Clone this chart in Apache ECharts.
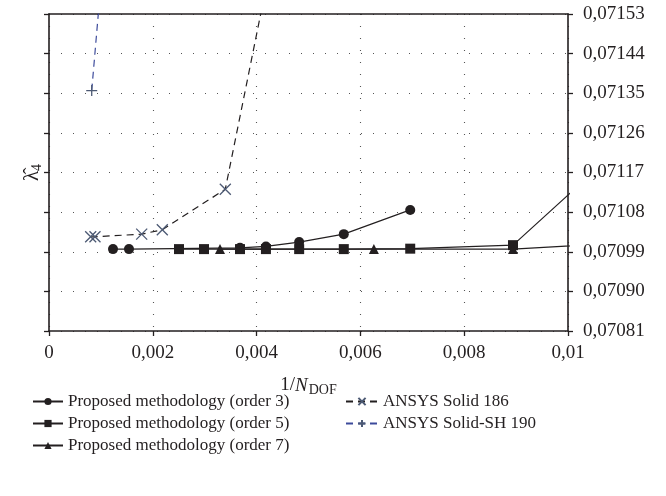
<!DOCTYPE html>
<html>
<head>
<meta charset="utf-8">
<script src="https://cdn.jsdelivr.net/npm/echarts@6/dist/echarts.min.js"></script>
<style>
  html, body { margin: 0; padding: 0; background: #fff; }
  #chart { width: 666px; height: 496px; }
</style>
</head>
<body>
<div id="chart"></div>
<script>
// Convergence of the fourth eigenvalue against 1/N_DOF
const xTicks = [0, 0.002, 0.004, 0.006, 0.008, 0.01];
const yTicks = [0.07081, 0.07090, 0.07099, 0.07108, 0.07117, 0.07126, 0.07135, 0.07144, 0.07153];

const order3X = [0.001233, 0.001541, 0.00368, 0.00418, 0.00482, 0.00568, 0.00696];
const order3Y = [0.070996, 0.070996, 0.070999, 0.071002, 0.071012, 0.071030, 0.071085];

const order5X = [0.002505, 0.002987, 0.00368, 0.00418, 0.00482, 0.00568, 0.00696, 0.00894, 0.0120];
const order5Y = [0.070996, 0.070996, 0.070996, 0.070996, 0.070996, 0.070996, 0.070997, 0.071005, 0.071333];

const order7X = [0.003295, 0.00626, 0.00894, 0.0120];
const order7Y = [0.070996, 0.070996, 0.070996, 0.071017];

const solid186X = [0.000803, 0.000886, 0.001786, 0.002183, 0.003397, 0.0048];
const solid186Y = [0.071024, 0.071024, 0.071030, 0.071040, 0.071132, 0.071951];

const sh190X = [0.000823, 0.0011];
const sh190Y = [0.071356, 0.071736];

const names = [
  'Proposed methodology (order 3)',
  'Proposed methodology (order 5)',
  'Proposed methodology (order 7)',
  'ANSYS Solid 186',
  'ANSYS Solid-SH 190'
];

const FONT = 'Liberation Serif';
const INK = '#231f20';
const MARK = '#4d5a74';
const BLUE = '#3c4a9b';

const pairs = (xs, ys) => xs.map((x, i) => [x, ys[i]]);
const fmtX = v => (v === 0 ? '0' : String(+v.toFixed(3)).replace('.', ','));
const fmtY = v => v.toFixed(5).replace('.', ',');

const gridDots = { show: true, lineStyle: { color: '#555', width: 1.1, type: [1, 11] } };

const chart = echarts.init(document.getElementById('chart'), null, { renderer: 'canvas' });

chart.setOption({
  animation: false,
  backgroundColor: '#fff',
  textStyle: { fontFamily: FONT, color: INK },
  grid: { left: 49, right: 98, top: 14, bottom: 165, containLabel: false },
  xAxis: [
    {
      type: 'value', position: 'bottom', min: 0, max: 0.01, interval: 0.002,
      axisLine: { show: true, onZero: false, lineStyle: { color: INK, width: 1.6 } },
      axisTick: { show: true, length: 5, lineStyle: { color: INK, width: 1.3 } },
      axisLabel: { formatter: fmtX, fontFamily: FONT, fontSize: 19, color: INK, margin: 13 },
      splitLine: gridDots,
      name: '{a|1/}{n|N}{s|DOF}',
      nameLocation: 'middle', nameGap: 43,
      nameTextStyle: {
        rich: {
          a: { fontFamily: FONT, fontSize: 19, color: INK },
          n: { fontFamily: FONT, fontSize: 19, fontStyle: 'italic', color: INK },
          s: { fontFamily: FONT, fontSize: 14, color: INK, padding: [9, 0, 0, 1] }
        }
      }
    },
    {
      type: 'value', position: 'top', min: 0, max: 0.01, interval: 0.002,
      axisLine: { show: true, onZero: false, lineStyle: { color: INK, width: 1.6 } },
      axisTick: { show: false }, axisLabel: { show: false }, splitLine: { show: false }
    }
  ],
  yAxis: [
    {
      type: 'value', position: 'left', min: yTicks[0], max: yTicks[yTicks.length - 1],
      axisLine: { show: true, onZero: false, lineStyle: { color: INK, width: 1.6 } },
      axisTick: { show: true, length: 5, customValues: yTicks, lineStyle: { color: INK, width: 1.3 } },
      axisLabel: { show: false, customValues: yTicks },
      splitLine: gridDots,
      name: '{l|λ̂}{s|4}',
      nameLocation: 'middle', nameGap: 5,
      nameTextStyle: {
        rich: {
          l: { fontFamily: FONT, fontSize: 21, color: INK },
          s: { fontFamily: FONT, fontSize: 14, color: INK, padding: [9, 0, 0, 0] }
        }
      }
    },
    {
      type: 'value', position: 'right', min: yTicks[0], max: yTicks[yTicks.length - 1],
      axisLine: { show: true, onZero: false, lineStyle: { color: INK, width: 1.6 } },
      axisTick: { show: true, length: 5, customValues: yTicks, lineStyle: { color: INK, width: 1.3 } },
      axisLabel: { customValues: yTicks, formatter: fmtY, fontFamily: FONT, fontSize: 19, color: INK, margin: 15 },
      splitLine: { show: false }
    }
  ],
  legend: [
    {
      data: names.slice(0, 3), orient: 'vertical', left: 27, top: 388,
      itemWidth: 30, itemHeight: 9, itemGap: 5,
      textStyle: { fontFamily: FONT, fontSize: 17, color: INK }
    },
    {
      data: names.slice(3), orient: 'vertical', left: 340, top: 388,
      itemWidth: 32, itemHeight: 9, itemGap: 5,
      textStyle: { fontFamily: FONT, fontSize: 17, color: INK }
    }
  ],
  series: [
    {
      name: names[0], type: 'line', data: pairs(order3X, order3Y),
      symbol: 'circle', symbolSize: 10,
      lineStyle: { color: INK, width: 1.2 }, itemStyle: { color: INK }
    },
    {
      name: names[1], type: 'line', data: pairs(order5X, order5Y),
      symbol: 'rect', symbolSize: 10,
      lineStyle: { color: INK, width: 1.2 }, itemStyle: { color: INK }
    },
    {
      name: names[2], type: 'line', data: pairs(order7X, order7Y),
      symbol: 'triangle', symbolSize: 10,
      lineStyle: { color: INK, width: 1.2 }, itemStyle: { color: INK }
    },
    {
      name: names[3], type: 'line', data: pairs(solid186X, solid186Y),
      symbol: 'path://M0,0L10,10M10,0L0,10', symbolSize: 11,
      lineStyle: { color: INK, width: 1.2, type: [7, 5] },
      itemStyle: { color: 'rgba(0,0,0,0)', borderColor: MARK, borderWidth: 1.3 }
    },
    {
      name: names[4], type: 'line', data: pairs(sh190X, sh190Y),
      symbol: 'path://M5,0L5,10M0,5L10,5', symbolSize: 11,
      lineStyle: { color: BLUE, width: 1.2, type: [7, 5] },
      itemStyle: { color: 'rgba(0,0,0,0)', borderColor: MARK, borderWidth: 1.3 }
    }
  ]
});
</script>
</body>
</html>
